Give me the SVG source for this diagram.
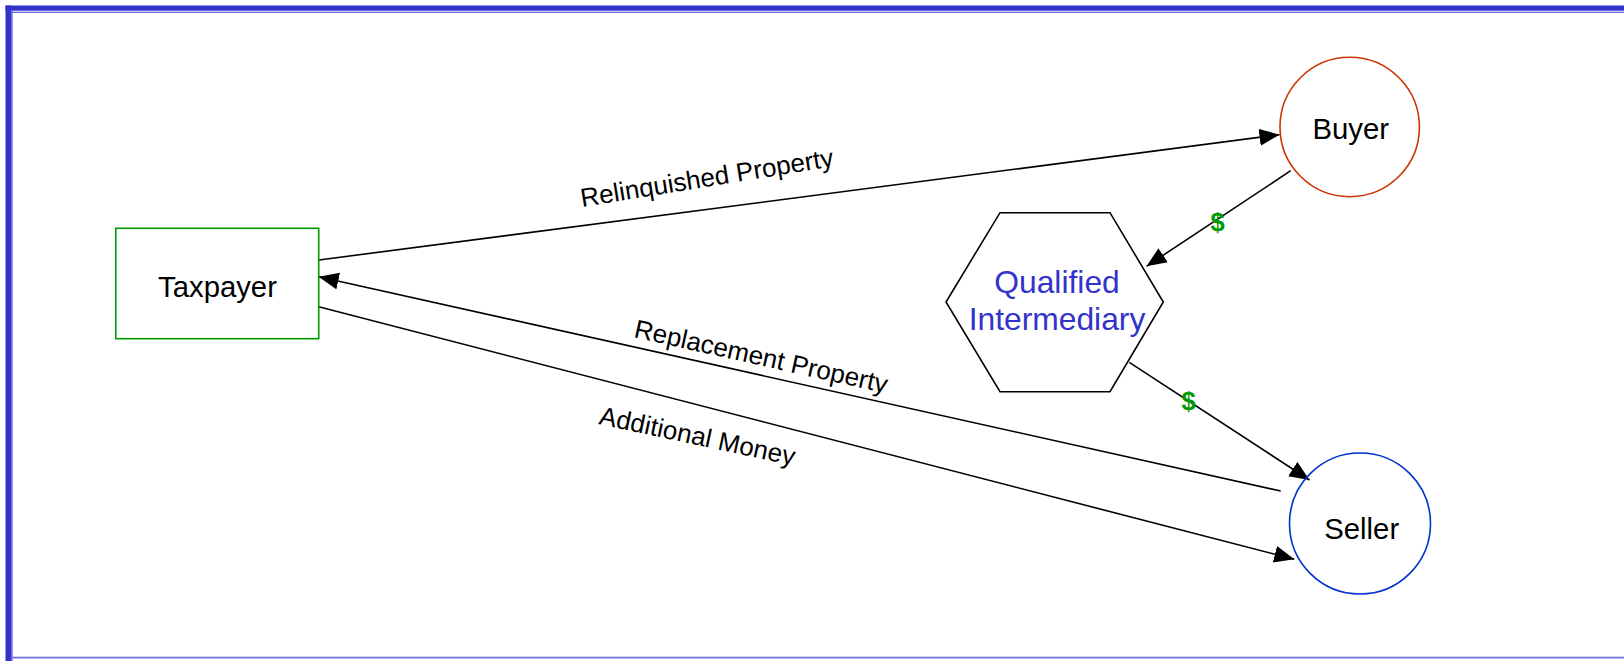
<svg xmlns="http://www.w3.org/2000/svg" width="1624" height="661" viewBox="0 0 1624 661">
<style>
.node{font-family:"Liberation Sans",Arial,sans-serif;font-size:29.3px;fill:#000;text-anchor:middle}
.lbl{font-family:"Liberation Sans",Arial,sans-serif;font-size:26px;fill:#000}
.money{font-family:"Liberation Sans",Arial,sans-serif;font-size:25.5px;font-weight:bold;fill:#009900;text-anchor:middle}
.conn{stroke:#000;stroke-width:1.6;fill:none;marker-end:url(#arr)}
.qi{font-family:"Liberation Sans",Arial,sans-serif;font-size:31.8px;fill:#3333cc;text-anchor:middle}
</style>
<defs>
<marker id="arr" markerUnits="userSpaceOnUse" markerWidth="21" markerHeight="18" refX="20" refY="8.5" orient="auto">
<path d="M0,0 L20,8.5 L0,17 z" fill="#000"/>
</marker>
</defs>
<rect x="0" y="0" width="1624" height="661" fill="#fff"/>
<g id="frame">
<rect x="5.5" y="5.5" width="1618.5" height="5.2" fill="#3333cc"/>
<rect x="11" y="11.7" width="1613" height="1.2" fill="#5a5ad8"/>
<rect x="5.5" y="5.5" width="5.5" height="655.5" fill="#3333cc"/>
<rect x="11" y="10.7" width="1.7" height="650.3" fill="#6e6edc"/>
<rect x="11.7" y="656.7" width="1612.3" height="1.8" fill="#7272dc"/>
</g>
<g id="connectors">
<line class="conn" x1="319" y1="260" x2="1279.5" y2="134.7"/>
<line class="conn" x1="1280.7" y1="491" x2="318.7" y2="276.7"/>
<line class="conn" x1="318.7" y1="306.7" x2="1294.3" y2="559.3"/>
<line class="conn" x1="1290.7" y1="170.7" x2="1146.5" y2="266.3"/>
<line class="conn" x1="1129.3" y1="362.3" x2="1309.5" y2="480"/>
<text class="lbl" x="582" y="207" transform="rotate(-9.2 582 207)">Relinquished Property</text>
<text class="lbl" x="633" y="337" transform="rotate(12.56 633 337)">Replacement Property</text>
<text class="lbl" x="598" y="424" transform="rotate(12 598 424)">Additional Money</text>
<text class="money" x="1217.5" y="231">$</text>
<text class="money" x="1188.5" y="410">$</text>
</g>
<g id="taxpayer">
<rect x="115.8" y="228.3" width="202.9" height="110.4" fill="none" stroke="#009900" stroke-width="1.6"/>
<text class="node" x="217.5" y="296.7">Taxpayer</text>
</g>
<g id="buyer">
<circle cx="1349.7" cy="127" r="69.7" fill="none" stroke="#cc3300" stroke-width="1.6"/>
<text class="node" x="1350.8" y="139">Buyer</text>
</g>
<g id="seller">
<circle cx="1360" cy="523.5" r="70.5" fill="none" stroke="#0033cc" stroke-width="1.6"/>
<text class="node" x="1361.7" y="538.7">Seller</text>
</g>
<g id="qi">
<polygon points="1000,212.7 1110,212.7 1163.3,302 1110,391.7 1000,391.7 946,302" fill="none" stroke="#000" stroke-width="1.6"/>
<text class="qi" x="1057" y="293">Qualified</text>
<text class="qi" x="1057" y="330">Intermediary</text>
</g>
</svg>
